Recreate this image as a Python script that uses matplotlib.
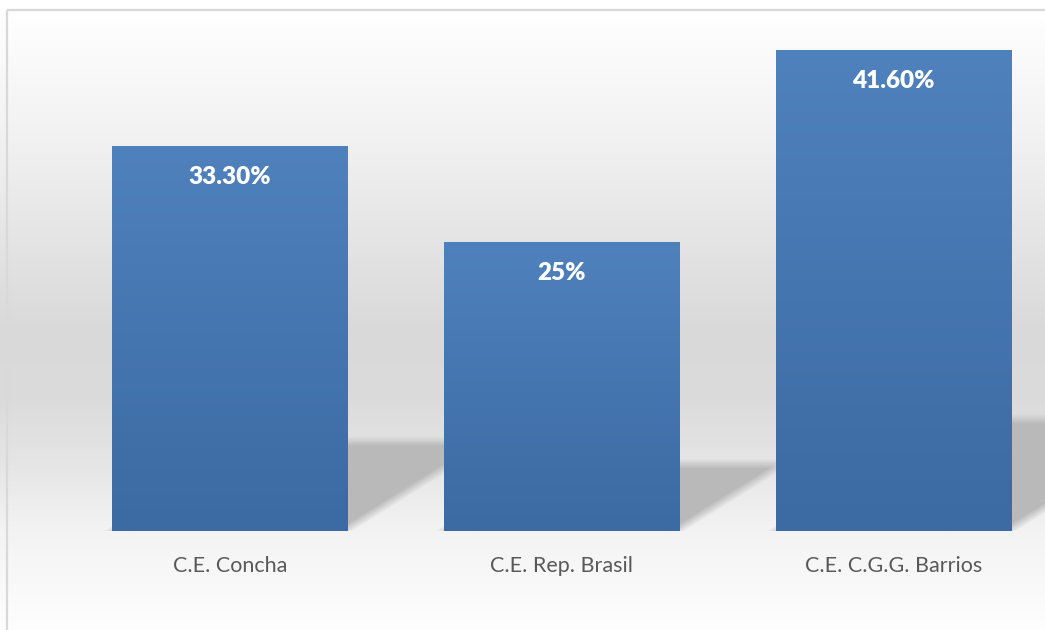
import numpy as np
import matplotlib
matplotlib.use("Agg")
import matplotlib.pyplot as plt
from matplotlib.patches import Rectangle

# data
categories = ["C.E. Concha", "C.E. Rep. Brasil", "C.E. C.G.G. Barrios"]
values = [33.3, 25.0, 41.6]
value_labels = ["33.30%", "25%", "41.60%"]

W, H = 1045, 630
fig = plt.figure(figsize=(W / 100, H / 100), dpi=100)

# background gradient (whole chart area)
bg = fig.add_axes([0, 0, 1, 1], zorder=0)
ys = np.arange(H)
stops_y = [0, 10, 150, 330, 400, 460, 531, 630]
stops_c = [255, 255, 240, 217, 219, 229, 243, 254]
col = np.interp(ys, stops_y, stops_c) / 255.0
grad = np.repeat(col[:, None], 4, axis=1)
grad = np.dstack([grad, grad, grad])
bg.imshow(grad, extent=(0, W, H, 0), aspect="auto")
bg.set_xlim(0, W)
bg.set_ylim(H, 0)
bg.axis("off")
# chart border (left and top are visible)
bg.add_patch(Rectangle((7, 10), W + 20, H + 20, fill=False, ec="#d9d9d9", lw=1.6))

# plot area in pixels
px_left, px_right, px_base, px_top = 7, 1045, 531, 10
ax = fig.add_axes([px_left / W, (H - px_base) / H,
                   (px_right - px_left) / W, (px_base - px_top) / H], zorder=1)
ax.patch.set_alpha(0)
ppu_y = 11.57
ppu_x = 331.75
xmin = (px_left - 230) / ppu_x
xmax = (px_right - 230) / ppu_x
ymax = (px_base - px_top) / ppu_y
ax.set_xlim(xmin, xmax)
ax.set_ylim(0, ymax)
for s in ax.spines.values():
    s.set_visible(False)
ax.set_yticks([])

x = np.arange(len(categories))
bw = 0.711

# soft shadows behind bars
nx, ny = px_right - px_left, px_base - px_top
gx, gy = np.meshgrid(np.arange(nx) + 0.5, np.arange(ny) + 0.5)
gy = gy[::-1]  # row 0 at the top
shadow = np.zeros_like(gx)
slope = 1.6
for xi, v in zip(x, values):
    x0 = (xi - bw / 2 - xmin) * ppu_x
    x1 = (xi + bw / 2 - xmin) * ppu_x
    top = 0.233 * v * ppu_y
    a_top = np.clip((top - gy) / 10 + 0.5, 0, 1)
    u = gx - slope * gy
    a_r = np.clip((x1 - u) / 18 + 0.3, 0, 1)
    a_l = np.clip((u - x0) / 18 + 0.5, 0, 1)
    shadow = np.maximum(shadow, a_top * a_r * a_l)
rgba = np.zeros((ny, nx, 4))
rgba[..., :3] = 185 / 255
rgba[..., 3] = shadow
ax.imshow(rgba, extent=(xmin, xmax, 0, ymax), aspect="auto", zorder=1)

bars = ax.bar(x, values, width=bw, color="#4a7ab5", zorder=2)
top_c = np.array([79, 129, 189]) / 255
bot_c = np.array([60, 106, 162]) / 255
t = np.linspace(0, 1, 200)[:, None]
bar_grad = (top_c[None, :] * (1 - t) + bot_c[None, :] * t)[:, None, :]
for b in bars:
    im = ax.imshow(bar_grad, extent=(b.get_x(), b.get_x() + b.get_width(), 0, b.get_height()),
                   aspect="auto", zorder=3)
    im.set_clip_path(b)

for xi, v, lab in zip(x, values, value_labels):
    ax.annotate(lab, (xi, v), xytext=(0, -31), textcoords="offset pixels",
                ha="center", va="center", color="white", fontsize=17.5,
                fontweight="heavy", family="Lato", zorder=4)

ax.set_xticks(x)
ax.set_xticklabels(categories, fontsize=15.5, color="#595959", family="Lato")
ax.tick_params(axis="x", length=0, pad=18)

fig.savefig("out.png", dpi=100)
